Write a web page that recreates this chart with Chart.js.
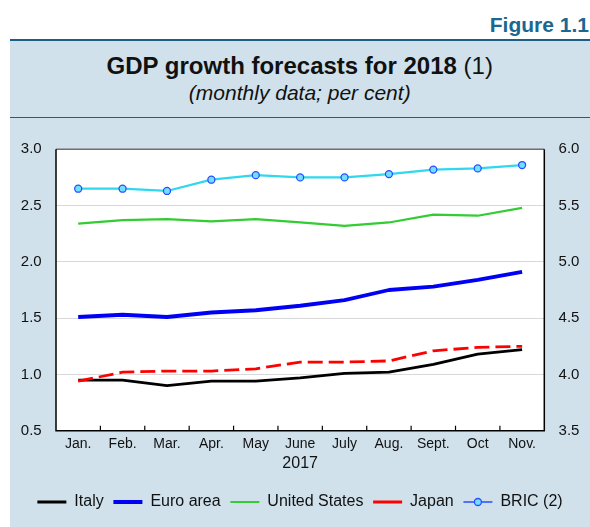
<!DOCTYPE html>
<html>
<head>
<meta charset="utf-8">
<script src="https://cdn.jsdelivr.net/npm/chart.js@4"></script>
<style>
html,body{margin:0;padding:0;background:#fff;}
#wrap{position:relative;width:590px;height:527px;overflow:hidden;font-family:"Liberation Sans",Arial,sans-serif;}
#fig{position:absolute;right:1px;top:14px;font-weight:bold;font-size:21px;line-height:21px;color:#1b6792;white-space:nowrap;}
#panel{position:absolute;left:9.5px;top:38.5px;width:580.5px;height:488.5px;background:#d0e1eb;border-top:2px solid #1b5f86;box-sizing:border-box;}
#rule{position:absolute;left:9.5px;top:116.5px;width:580.5px;height:1.5px;background:#1b5f86;}
#title{position:absolute;left:9.5px;width:580.5px;top:53.7px;text-align:center;font-size:24px;line-height:24px;font-weight:bold;color:#111;white-space:nowrap;}
#title span{font-weight:normal;}
#sub{position:absolute;left:9.5px;width:580.5px;top:81.7px;text-align:center;font-size:21px;line-height:21px;font-style:italic;color:#111;white-space:nowrap;}
#c{position:absolute;left:0;top:0;}
</style>
</head>
<body>
<div id="wrap">
  <div id="fig">Figure 1.1</div>
  <div id="panel"></div>
  <div id="rule"></div>
  <div id="title">GDP growth forecasts for 2018 <span>(1)</span></div>
  <div id="sub">(monthly data; per cent)</div>
  <canvas id="c" width="590" height="527"></canvas>
</div>
<script>
const months = ['Jan.','Feb.','Mar.','Apr.','May','June','July','Aug.','Sept.','Oct','Nov.'];
const yearLabel = '2017';
const italy        = [0.95,0.95,0.90,0.94,0.94,0.97,1.01,1.02,1.09,1.18,1.22];
const euroArea     = [1.51,1.53,1.51,1.55,1.57,1.61,1.66,1.75,1.78,1.84,1.91];
const unitedStates = [2.34,2.37,2.38,2.36,2.38,2.35,2.32,2.35,2.42,2.41,2.48];
const japan        = [0.94,1.02,1.03,1.03,1.05,1.11,1.11,1.12,1.21,1.24,1.25];
const bric         = [5.65,5.65,5.63,5.73,5.77,5.75,5.75,5.78,5.82,5.83,5.86];
const leftTicks  = [0.5,1.0,1.5,2.0,2.5,3.0];
const rightTicks = [3.5,4.0,4.5,5.0,5.5,6.0];

Chart.defaults.font.family = '"Liberation Sans", Arial, sans-serif';
Chart.defaults.color = '#111';

const framePlugin = {
  id: 'frame',
  beforeDraw(chart) {
    const {ctx, chartArea: a} = chart;
    ctx.save();
    ctx.fillStyle = '#ffffff';
    ctx.fillRect(a.left, a.top, a.right - a.left, a.bottom - a.top);
    ctx.restore();
  },
  afterDatasetsDraw(chart) {
    const {ctx, chartArea: a, scales: {x}} = chart;
    ctx.save();
    // inward tick marks between categories
    ctx.strokeStyle = '#000';
    ctx.lineWidth = 1.2;
    for (let i = 1; i < months.length; i++) {
      const px = (x.getPixelForValue(i - 1) + x.getPixelForValue(i)) / 2;
      ctx.beginPath();
      ctx.moveTo(px, a.bottom);
      ctx.lineTo(px, a.bottom - 5);
      ctx.stroke();
    }
    // top border (grey)
    ctx.strokeStyle = '#6e6e6e';
    ctx.lineWidth = 1.5;
    ctx.beginPath();
    ctx.moveTo(a.left, a.top);
    ctx.lineTo(a.right, a.top);
    ctx.stroke();
    // left, bottom, right borders (black)
    ctx.strokeStyle = '#000';
    ctx.lineWidth = 1.5;
    ctx.beginPath();
    ctx.moveTo(a.left, a.top);
    ctx.lineTo(a.left, a.bottom);
    ctx.lineTo(a.right, a.bottom);
    ctx.lineTo(a.right, a.top);
    ctx.stroke();
    // marker on BRIC legend entry
    const lg = chart.legend;
    if (lg && lg.legendHitBoxes && lg.legendHitBoxes.length) {
      const items = lg.legendItems;
      items.forEach((it, i) => {
        const ds = chart.data.datasets[it.datasetIndex];
        if (ds.pointRadius > 0) {
          const hb = lg.legendHitBoxes[i];
          const bw = lg.options.labels.pointStyleWidth;
          ctx.beginPath();
          ctx.arc(hb.left + bw / 2, hb.top + hb.height / 2, ds.pointRadius, 0, Math.PI * 2);
          ctx.fillStyle = ds.pointBackgroundColor;
          ctx.fill();
          ctx.lineWidth = ds.pointBorderWidth;
          ctx.strokeStyle = ds.pointBorderColor;
          ctx.stroke();
        }
      });
    }
    ctx.restore();
  }
};

new Chart(document.getElementById('c'), {
  type: 'line',
  data: {
    labels: months,
    datasets: [
      {label: 'Italy', data: italy, yAxisID: 'y', borderColor: '#000000', backgroundColor: '#000000', borderWidth: 2.8, pointRadius: 0, order: 4},
      {label: 'Euro area', data: euroArea, yAxisID: 'y', borderColor: '#0000f5', backgroundColor: '#0000f5', borderWidth: 3.8, pointRadius: 0, order: 3},
      {label: 'United States', data: unitedStates, yAxisID: 'y', borderColor: '#33cc33', backgroundColor: '#33cc33', borderWidth: 2.2, pointRadius: 0, order: 2},
      {label: 'Japan', data: japan, yAxisID: 'y', borderColor: '#ff0000', backgroundColor: '#ff0000', borderWidth: 2.8, borderDash: [15, 6], pointRadius: 0, order: 1},
      {label: 'BRIC (2)', data: bric, yAxisID: 'y1', borderColor: '#2fd8ee', backgroundColor: '#2fd8ee', borderWidth: 2.2,
       pointRadius: 3.5, pointBackgroundColor: '#6fe0ff', pointBorderColor: '#2a4dff', pointBorderWidth: 1.3, order: 0}
    ]
  },
  options: {
    responsive: false,
    animation: false,
    devicePixelRatio: 1,
    layout: {padding: {left: 10, right: 0, top: 149.3, bottom: 7}},
    elements: {line: {tension: 0, borderCapStyle: 'butt', borderJoinStyle: 'round'}},
    plugins: {
      title: {display: false},
      tooltip: {enabled: false},
      legend: {
        position: 'bottom',
        labels: {
          usePointStyle: true,
          pointStyle: 'line',
          pointStyleWidth: 29,
          padding: 9.7,
          color: '#111',
          font: {size: 16},
          sort: (a, b) => a.datasetIndex - b.datasetIndex
        }
      }
    },
    scales: {
      x: {
        type: 'category',
        offset: true,
        grid: {display: false, drawTicks: false},
        border: {display: false},
        ticks: {font: {size: 14}, color: '#111', padding: 5, maxRotation: 0, autoSkip: false},
        title: {display: true, text: yearLabel, font: {size: 16}, color: '#111', padding: {top: 0, bottom: 10.7}},
        afterFit(s) { s.height = 53.6; }
      },
      y: {
        position: 'left',
        min: leftTicks[0],
        max: leftTicks[leftTicks.length - 1],
        afterBuildTicks(s) { s.ticks = leftTicks.map(v => ({value: v})); },
        grid: {
          drawTicks: false,
          color: c => (c.tick && (c.tick.value === leftTicks[0] || c.tick.value === leftTicks[leftTicks.length - 1])) ? 'rgba(0,0,0,0)' : '#d8d8d8',
          lineWidth: 1
        },
        border: {display: false},
        ticks: {font: {size: 15}, color: '#111', padding: 14.3, callback: v => Number(v).toFixed(1)},
        afterFit(s) { s.width = 46; }
      },
      y1: {
        position: 'right',
        min: rightTicks[0],
        max: rightTicks[rightTicks.length - 1],
        afterBuildTicks(s) { s.ticks = rightTicks.map(v => ({value: v})); },
        grid: {drawOnChartArea: false, drawTicks: false},
        border: {display: false},
        ticks: {font: {size: 15}, color: '#111', padding: 14.3, callback: v => Number(v).toFixed(1)},
        afterFit(s) { s.width = 45.7; }
      }
    }
  },
  plugins: [framePlugin]
});
</script>
</body>
</html>
